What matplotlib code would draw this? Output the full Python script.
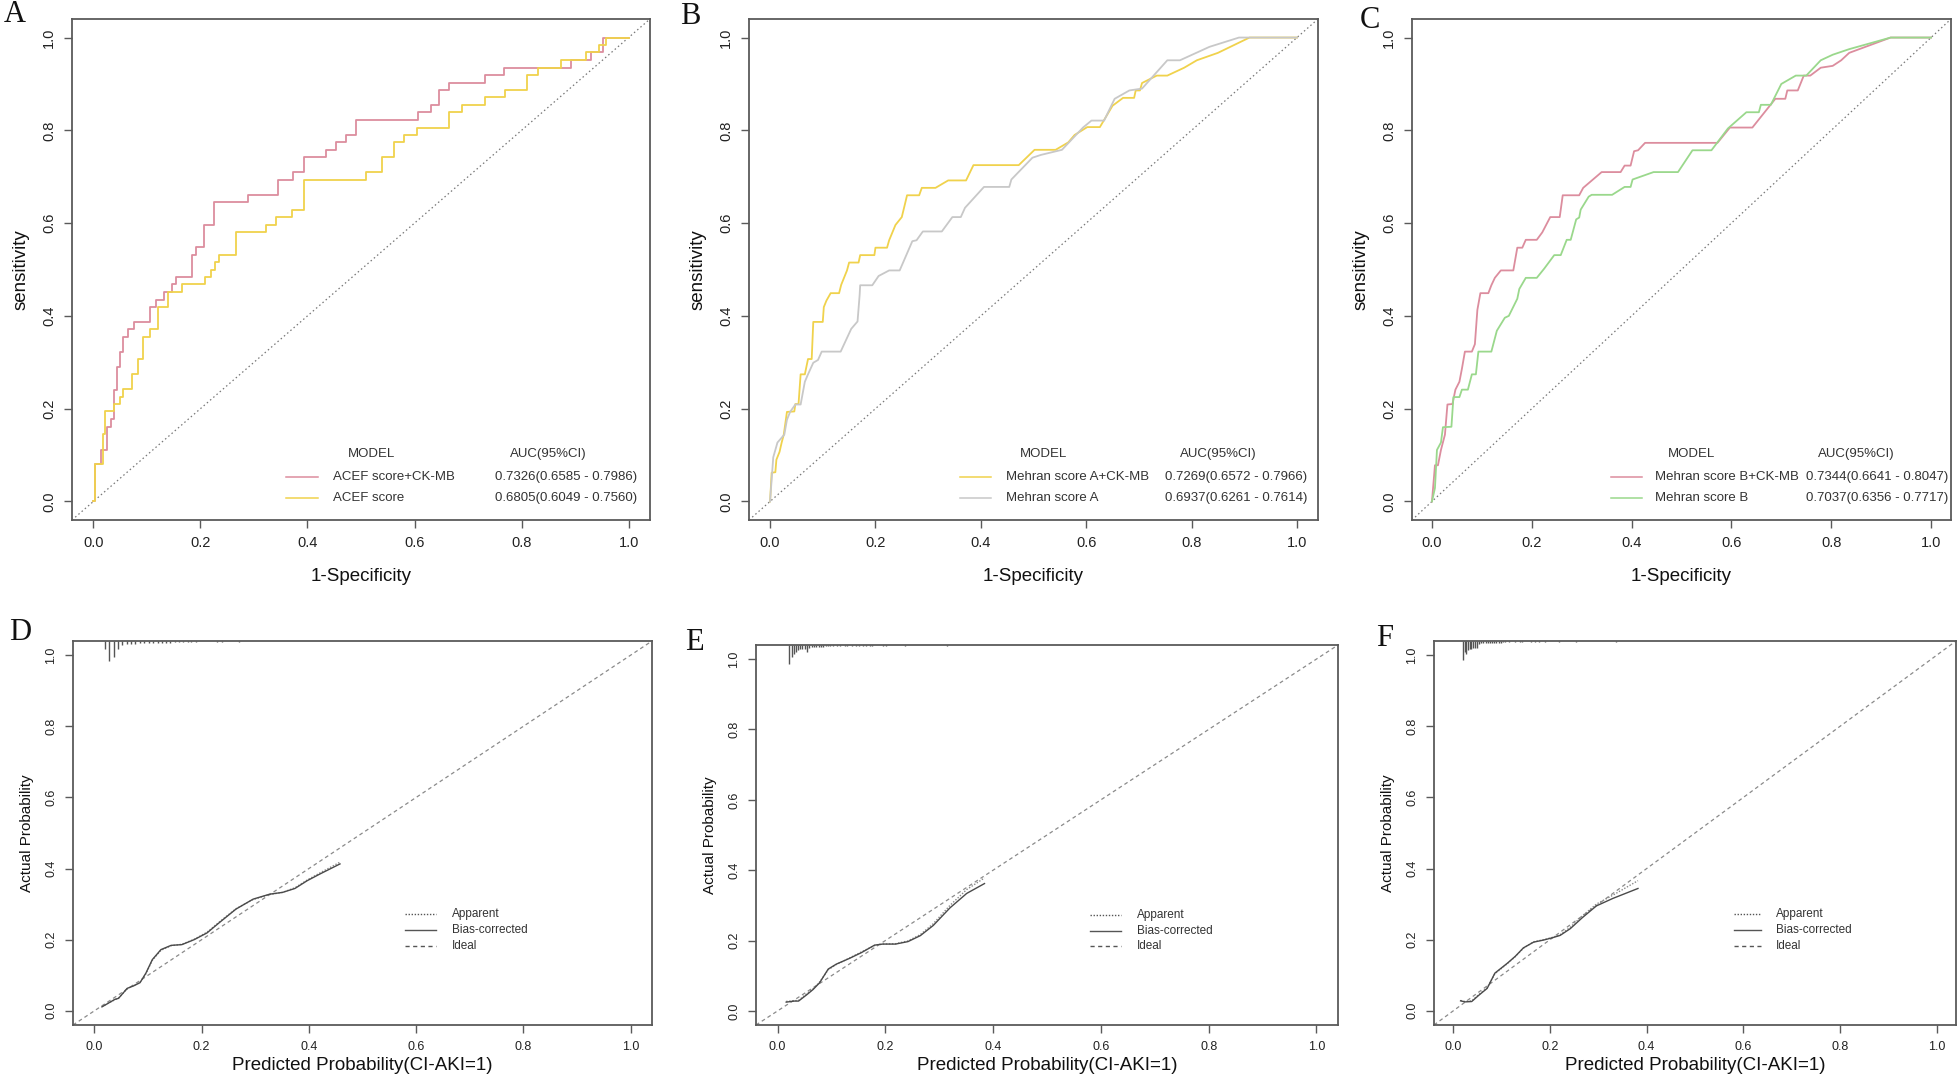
import numpy as np
import matplotlib
matplotlib.use("Agg")
import matplotlib.pyplot as plt
from matplotlib.lines import Line2D

plt.rcParams['font.family'] = ['Liberation Sans', 'DejaVu Sans']

# ---------------- ROC data (1-specificity, sensitivity) ----------------
# panel A (step corners)
a1_fpr = [0, 0.003, 0.014, 0.026, 0.032, 0.038, 0.044, 0.05, 0.056, 0.064,
          0.076, 0.105, 0.117, 0.131, 0.146, 0.155, 0.185, 0.192, 0.207, 0.226,
          0.289, 0.345, 0.373, 0.394, 0.435, 0.453, 0.472, 0.491, 0.606, 0.631,
          0.645, 0.665, 0.732, 0.767, 0.893, 0.929, 0.953, 1.0]
a1_tpr = [0, 0.08, 0.111, 0.161, 0.177, 0.241, 0.29, 0.323, 0.355, 0.371,
          0.387, 0.419, 0.435, 0.452, 0.468, 0.484, 0.532, 0.548, 0.597, 0.645,
          0.661, 0.694, 0.71, 0.742, 0.758, 0.774, 0.79, 0.823, 0.839, 0.855,
          0.887, 0.903, 0.919, 0.935, 0.952, 0.968, 1.0, 1.0]
a2_fpr = [0, 0.003, 0.017, 0.022, 0.038, 0.05, 0.056, 0.073, 0.084, 0.093,
          0.106, 0.121, 0.14, 0.166, 0.209, 0.219, 0.227, 0.235, 0.267, 0.322,
          0.341, 0.371, 0.393, 0.509, 0.539, 0.562, 0.58, 0.604, 0.665, 0.689,
          0.732, 0.769, 0.811, 0.83, 0.874, 0.92, 0.945, 0.957, 1.0]
a2_tpr = [0, 0.08, 0.145, 0.194, 0.21, 0.226, 0.242, 0.274, 0.306, 0.355,
          0.371, 0.419, 0.452, 0.468, 0.484, 0.5, 0.516, 0.532, 0.581, 0.597,
          0.613, 0.629, 0.694, 0.71, 0.742, 0.774, 0.79, 0.806, 0.839, 0.855,
          0.871, 0.887, 0.919, 0.935, 0.952, 0.968, 0.984, 1.0, 1.0]

# panel B
b1_fpr = [0, 0.003, 0.01, 0.012, 0.018, 0.022, 0.026, 0.032, 0.046, 0.048,
          0.054, 0.058, 0.066, 0.072, 0.079, 0.082, 0.1, 0.102, 0.107, 0.115,
          0.131, 0.135, 0.146, 0.15, 0.168, 0.171, 0.198, 0.2, 0.222, 0.226,
          0.238, 0.25, 0.256, 0.26, 0.283, 0.288, 0.314, 0.338, 0.372, 0.386,
          0.472, 0.502, 0.542, 0.566, 0.578, 0.602, 0.626, 0.65, 0.67, 0.691,
          0.694, 0.702, 0.706, 0.734, 0.754, 0.786, 0.81, 0.85, 0.91, 1.0]
b1_tpr = [0, 0.062, 0.063, 0.09, 0.107, 0.127, 0.144, 0.193, 0.194, 0.21,
          0.21, 0.274, 0.274, 0.307, 0.307, 0.387, 0.387, 0.419, 0.433, 0.449,
          0.449, 0.467, 0.498, 0.515, 0.515, 0.531, 0.531, 0.547, 0.547, 0.563,
          0.596, 0.613, 0.641, 0.66, 0.66, 0.676, 0.676, 0.692, 0.692, 0.725,
          0.725, 0.758, 0.758, 0.774, 0.79, 0.807, 0.807, 0.853, 0.87, 0.87,
          0.886, 0.886, 0.902, 0.918, 0.918, 0.935, 0.951, 0.967, 1.0, 1.0]
b2_fpr = [0, 0.006, 0.014, 0.027, 0.032, 0.038, 0.048, 0.058, 0.066, 0.072,
          0.082, 0.091, 0.098, 0.134, 0.154, 0.166, 0.17, 0.171, 0.194, 0.206,
          0.226, 0.246, 0.254, 0.27, 0.278, 0.29, 0.326, 0.346, 0.362, 0.37,
          0.406, 0.454, 0.458, 0.498, 0.514, 0.554, 0.594, 0.61, 0.634, 0.654,
          0.682, 0.706, 0.754, 0.778, 0.834, 0.89, 1.0]
b2_tpr = [0, 0.095, 0.127, 0.144, 0.176, 0.193, 0.209, 0.209, 0.258, 0.274,
          0.299, 0.305, 0.323, 0.323, 0.372, 0.388, 0.445, 0.466, 0.466, 0.486,
          0.498, 0.498, 0.519, 0.561, 0.563, 0.582, 0.582, 0.613, 0.613, 0.633,
          0.678, 0.678, 0.694, 0.741, 0.747, 0.758, 0.806, 0.821, 0.821, 0.868,
          0.886, 0.89, 0.951, 0.951, 0.98, 1.0, 1.0]

# panel C
c1_fpr = [0, 0.006, 0.012, 0.018, 0.026, 0.031, 0.041, 0.047, 0.055, 0.06,
          0.066, 0.08, 0.086, 0.091, 0.097, 0.113, 0.119, 0.126, 0.138, 0.163,
          0.171, 0.181, 0.188, 0.21, 0.221, 0.237, 0.256, 0.262, 0.295, 0.303,
          0.34, 0.378, 0.386, 0.398, 0.405, 0.413, 0.427, 0.572, 0.597, 0.642,
          0.688, 0.708, 0.712, 0.733, 0.745, 0.758, 0.779, 0.803, 0.82, 0.836,
          0.919, 1.0]
c1_tpr = [0, 0.078, 0.078, 0.111, 0.144, 0.209, 0.21, 0.241, 0.258, 0.286,
          0.323, 0.323, 0.339, 0.413, 0.449, 0.449, 0.466, 0.482, 0.498, 0.498,
          0.547, 0.547, 0.564, 0.564, 0.58, 0.613, 0.613, 0.66, 0.66, 0.676,
          0.71, 0.71, 0.724, 0.724, 0.755, 0.757, 0.773, 0.773, 0.806, 0.806,
          0.868, 0.868, 0.886, 0.886, 0.918, 0.918, 0.935, 0.939, 0.951, 0.967,
          1.0, 1.0]
c2_fpr = [0, 0.006, 0.01, 0.018, 0.022, 0.039, 0.043, 0.055, 0.06, 0.072,
          0.08, 0.088, 0.093, 0.119, 0.13, 0.146, 0.154, 0.171, 0.175, 0.188,
          0.21, 0.225, 0.245, 0.258, 0.27, 0.278, 0.289, 0.295, 0.298, 0.314,
          0.32, 0.361, 0.386, 0.398, 0.402, 0.444, 0.493, 0.522, 0.56, 0.593,
          0.63, 0.655, 0.659, 0.679, 0.7, 0.729, 0.75, 0.779, 0.803, 0.836,
          0.919, 1.0]
c2_tpr = [0, 0.029, 0.111, 0.127, 0.16, 0.161, 0.225, 0.225, 0.241, 0.241,
          0.274, 0.274, 0.323, 0.323, 0.368, 0.396, 0.4, 0.437, 0.458, 0.482,
          0.482, 0.502, 0.531, 0.531, 0.564, 0.564, 0.608, 0.612, 0.629, 0.657,
          0.661, 0.661, 0.678, 0.678, 0.694, 0.71, 0.71, 0.757, 0.757, 0.804,
          0.839, 0.839, 0.855, 0.855, 0.9, 0.918, 0.918, 0.951, 0.963, 0.975,
          1.0, 1.0]

roc_names_a = ["ACEF score+CK-MB", "ACEF score"]
roc_auc_a = ["0.7326(0.6585 - 0.7986)", "0.6805(0.6049 - 0.7560)"]
roc_names_b = ["Mehran score A+CK-MB", "Mehran score A"]
roc_auc_b = ["0.7269(0.6572 - 0.7966)", "0.6937(0.6261 - 0.7614)"]
roc_names_c = ["Mehran score B+CK-MB", "Mehran score B"]
roc_auc_c = ["0.7344(0.6641 - 0.8047)", "0.7037(0.6356 - 0.7717)"]

# ---------------- calibration data ----------------
d_pred = [0.014, 0.038, 0.045, 0.061, 0.073, 0.085, 0.096, 0.108, 0.124, 0.143, 0.163,
          0.186, 0.21, 0.233, 0.264, 0.296, 0.327, 0.351, 0.374, 0.397, 0.421, 0.458]
d_bias = [0.011, 0.032, 0.035, 0.063, 0.07, 0.079, 0.106, 0.144, 0.172, 0.184, 0.186,
          0.2, 0.219, 0.248, 0.286, 0.314, 0.328, 0.333, 0.344, 0.366, 0.385, 0.413]
d_app = [0.012, 0.031, 0.036, 0.062, 0.071, 0.08, 0.104, 0.142, 0.17, 0.183, 0.187,
         0.201, 0.221, 0.25, 0.287, 0.313, 0.327, 0.333, 0.346, 0.368, 0.388, 0.418]

e_pred = [0.016, 0.031, 0.039, 0.055, 0.066, 0.078, 0.094, 0.109, 0.133, 0.156,
          0.18, 0.195, 0.219, 0.242, 0.265, 0.289, 0.32, 0.351, 0.384]
e_bias = [0.025, 0.028, 0.028, 0.047, 0.061, 0.08, 0.119, 0.133, 0.149, 0.166,
          0.187, 0.19, 0.19, 0.197, 0.214, 0.243, 0.293, 0.334, 0.362]
e_app = [0.027, 0.029, 0.03, 0.05, 0.063, 0.082, 0.117, 0.132, 0.15, 0.168,
         0.186, 0.19, 0.191, 0.199, 0.217, 0.248, 0.3, 0.345, 0.378]

f_pred = [0.015, 0.024, 0.038, 0.053, 0.07, 0.086, 0.112, 0.128, 0.145, 0.166,
          0.187, 0.204, 0.221, 0.242, 0.267, 0.296, 0.33, 0.382]
f_bias = [0.028, 0.025, 0.026, 0.044, 0.063, 0.106, 0.134, 0.153, 0.177, 0.193,
          0.199, 0.205, 0.212, 0.231, 0.262, 0.295, 0.316, 0.344]
f_app = [0.029, 0.026, 0.028, 0.046, 0.065, 0.104, 0.133, 0.152, 0.176, 0.194,
         0.2, 0.206, 0.214, 0.235, 0.267, 0.3, 0.325, 0.366]

# distribution of predictions (rug at top): position, length
rug_d_x = [0.019, 0.028, 0.036, 0.044, 0.052, 0.060, 0.068, 0.076, 0.085, 0.093,
           0.101, 0.109, 0.118, 0.126, 0.134, 0.141, 0.150, 0.158, 0.166, 0.174,
           0.181, 0.189, 0.229, 0.237, 0.270]
rug_d_h = [0.022, 0.055, 0.045, 0.022, 0.012, 0.009, 0.008, 0.008, 0.007, 0.007,
           0.006, 0.006, 0.006, 0.005, 0.005, 0.005, 0.004, 0.004, 0.004, 0.004,
           0.004, 0.003, 0.003, 0.003, 0.003]
rug_e_x = [0.021, 0.026, 0.030, 0.034, 0.038, 0.042, 0.046, 0.050, 0.055, 0.059,
           0.063, 0.068, 0.072, 0.077, 0.081, 0.085, 0.090, 0.094, 0.098, 0.103,
           0.111, 0.116, 0.125, 0.129, 0.138, 0.146, 0.151, 0.159, 0.164, 0.172,
           0.176, 0.195, 0.202, 0.237, 0.315]
rug_e_h = [0.054, 0.034, 0.026, 0.020, 0.014, 0.011, 0.011, 0.011, 0.020, 0.008,
           0.007, 0.006, 0.006, 0.005, 0.005, 0.005, 0.004, 0.004, 0.004, 0.004,
           0.004, 0.003, 0.003, 0.003, 0.003, 0.003, 0.003, 0.003, 0.003, 0.003,
           0.003, 0.003, 0.003, 0.003, 0.003]
rug_f_x = [0.019, 0.024, 0.027, 0.030, 0.034, 0.037, 0.041, 0.044, 0.049, 0.053,
           0.058, 0.062, 0.067, 0.071, 0.076, 0.080, 0.085, 0.089, 0.094, 0.098,
           0.102, 0.106, 0.116, 0.127, 0.137, 0.143, 0.160, 0.168, 0.178, 0.190,
           0.219, 0.254, 0.336]
rug_f_h = [0.054, 0.031, 0.036, 0.026, 0.022, 0.022, 0.019, 0.019, 0.019, 0.008,
           0.007, 0.007, 0.006, 0.006, 0.006, 0.005, 0.005, 0.005, 0.005, 0.005,
           0.004, 0.004, 0.003, 0.003, 0.003, 0.003, 0.003, 0.003, 0.003, 0.003,
           0.003, 0.003, 0.003]

calib_labels = ["Apparent", "Bias-corrected", "Ideal"]

PINK = '#dc8d9e'
YELLOW = '#f0d24c'
GRAY = '#c8c8c8'
GREEN = '#9ad88c'
FRAME = '#5a5a5a'
W, H = 1960, 1076

fig = plt.figure(figsize=(19.6, 10.76), dpi=100)


def px_axes(x0, x1, y0, y1):
    return fig.add_axes([x0 / W, 1 - y1 / H, (x1 - x0) / W, (y1 - y0) / H])


def base_style(ax, tick_size, pad):
    ax.set_xlim(-0.04, 1.04)
    ax.set_ylim(-0.04, 1.04)
    ticks = np.arange(0, 1.01, 0.2)
    lab = [f'{t:.1f}' for t in ticks]
    ax.set_xticks(ticks, labels=lab)
    ax.set_yticks(ticks, labels=lab, rotation=90, va='center')
    for s in ax.spines.values():
        s.set_color(FRAME)
        s.set_linewidth(1.3)
    ax.tick_params(direction='out', length=5.5, width=1.0, color=FRAME,
                   labelsize=tick_size, labelcolor='#222222', pad=pad)


def panel_letter(x, y, letter):
    fig.text(x / W, 1 - y / H, letter, ha='center', va='center', fontsize=22,
             family='Liberation Serif', color='#111111')


def roc_panel(ax, curves, colors, names, aucs, steps=False):
    base_style(ax, 10.5, 6)
    ax.axline((0, 0), (1, 1), color='#777777', lw=0.9, ls=(0, (1.2, 2.2)))
    for (fx, ty), c in zip(curves, colors):
        ax.plot(fx, ty, color=c, lw=1.3, drawstyle='steps-post' if steps else 'default')
    ax.set_xlabel('1-Specificity', fontsize=13.5, labelpad=13, color='#111111')
    ax.set_ylabel('sensitivity', fontsize=13.5, labelpad=9, color='#111111')
    tr = ax.transAxes
    ax.text(0.518, 0.132, 'MODEL', transform=tr, ha='center', va='center', fontsize=9.5, color='#333333')
    ax.text(0.824, 0.132, 'AUC(95%CI)', transform=tr, ha='center', va='center', fontsize=9.5, color='#333333')
    for i, yy in enumerate([0.085, 0.043]):
        ax.add_line(Line2D([0.37, 0.426], [yy, yy], transform=tr, color=colors[i], lw=1.1))
        ax.text(0.451, yy, names[i], transform=tr, ha='left', va='center', fontsize=9.5, color='#333333')
        ax.text(0.731, yy, aucs[i], transform=tr, ha='left', va='center', fontsize=9.5, color='#333333')


def calib_panel(ax, pred, app, bias, rug_x, rug_h):
    base_style(ax, 9, 6)
    ax.axline((0, 0), (1, 1), color='#8a8a8a', lw=0.9, ls=(0, (3, 2.5)))
    ax.plot(pred, app, color='#888888', lw=1.0, ls=(0, (1, 1.2)))
    ax.plot(pred, bias, color='#4a4a4a', lw=1.0)
    top = ax.get_ylim()[1]
    ax.vlines(rug_x, [top - h for h in rug_h], top, color='#555555', lw=1.0)
    ax.set_xlabel('Predicted Probability(CI-AKI=1)', fontsize=13.5, labelpad=3, color='#111111')
    ax.set_ylabel('Actual Probability', fontsize=11, labelpad=8, color='#111111')
    tr = ax.transAxes
    styles = [(0, (1, 1.2)), '-', (0, (3, 2.5))]
    for i, yy in enumerate([0.289, 0.247, 0.207]):
        ax.add_line(Line2D([0.574, 0.627], [yy, yy], transform=tr, color='#555555', lw=1.0, ls=styles[i]))
        ax.text(0.655, yy, calib_labels[i], transform=tr, ha='left', va='center', fontsize=8.5, color='#333333')


# top row: ROC curves
ax_a = px_axes(72, 650, 19, 520)
roc_panel(ax_a, [(a1_fpr, a1_tpr), (a2_fpr, a2_tpr)], [PINK, YELLOW], roc_names_a, roc_auc_a, steps=True)
ax_b = px_axes(749, 1318, 19, 520)
roc_panel(ax_b, [(b1_fpr, b1_tpr), (b2_fpr, b2_tpr)], [YELLOW, GRAY], roc_names_b, roc_auc_b)
ax_c = px_axes(1412, 1951, 19, 520)
roc_panel(ax_c, [(c1_fpr, c1_tpr), (c2_fpr, c2_tpr)], [PINK, GREEN], roc_names_c, roc_auc_c)

# bottom row: calibration curves
ax_d = px_axes(73, 652, 641, 1025)
calib_panel(ax_d, d_pred, d_app, d_bias, rug_d_x, rug_d_h)
ax_e = px_axes(756, 1338, 645, 1025)
calib_panel(ax_e, e_pred, e_app, e_bias, rug_e_x, rug_e_h)
ax_f = px_axes(1434, 1956, 641, 1025)
calib_panel(ax_f, f_pred, f_app, f_bias, rug_f_x, rug_f_h)

for (x, y, l) in [(15, 14, 'A'), (690, 17, 'B'), (1370, 20, 'C'),
                  (20, 633, 'D'), (694, 643, 'E'), (1385, 639, 'F')]:
    panel_letter(x, y, l)

fig.savefig('out.png', dpi=100, facecolor='white')
